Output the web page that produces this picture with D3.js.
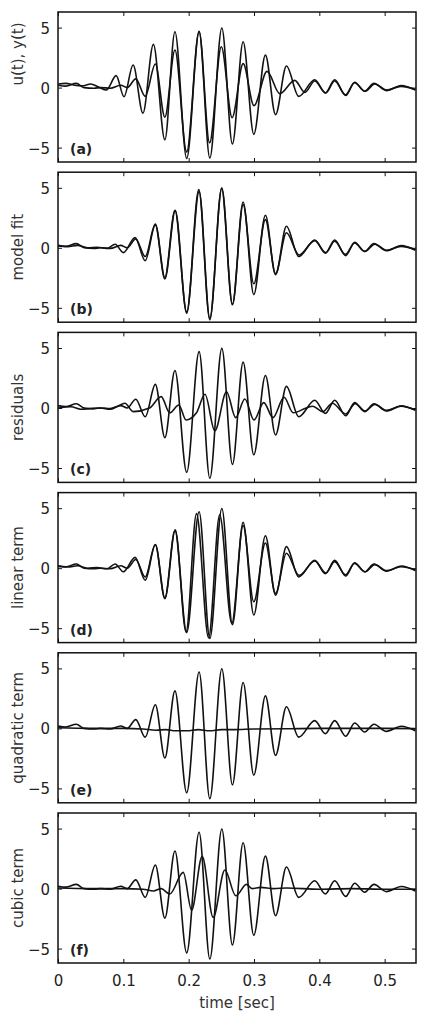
<!DOCTYPE html>
<html><head><meta charset="utf-8">
<script src="https://cdn.jsdelivr.net/npm/d3@7"></script>
<style>body{margin:0;background:#fff}svg{display:block}</style>
</head><body>
<script>
// ---- data ----
const panelLabels = ["(a)","(b)","(c)","(d)","(e)","(f)"];
const yTitles = ["u(t), y(t)","model fit","residuals","linear term","quadratic term","cubic term"];
const xTicks = [0,0.1,0.2,0.3,0.4,0.5];
const yTicks = [-5,0,5];
const xTitle = "time [sec]";

// measured output y(t) (drawn in every panel)
const yT = [0,0.012,0.028,0.04,0.055,0.065,0.08,0.096,0.106,0.119,0.1335,0.149,0.1636,0.179,0.197,0.216,0.2324,0.2508,0.267,0.2834,0.2997,0.3175,0.333,0.3497,0.3685,0.393,0.4093,0.4235,0.4404,0.4541,0.4694,0.4837,0.5026,0.5255,0.547];
const yV = [0.2,0.12,0.35,0.0,-0.05,0.0,-0.05,0.2,0.0,0.73,-0.73,1.97,-2.47,3.13,-5.36,4.7,-5.86,4.97,-4.7,3.82,-3.9,2.71,-2.25,1.8,-0.73,0.65,-0.45,0.65,-0.65,0.45,-0.3,0.35,-0.25,0.18,-0.2];

// input u(t) (panel a)
const uT = [0,0.012,0.025,0.037,0.05,0.062,0.074,0.089,0.101,0.115,0.130,0.146,0.1636,0.179,0.197,0.216,0.232,0.25,0.2665,0.2834,0.30,0.32,0.3395,0.3624,0.378,0.393,0.41,0.4235,0.44,0.454,0.47,0.485,0.503,0.525,0.547];
const uV = [0.3,0.35,0.2,0.15,0.3,0.05,-0.2,1.0,-0.76,1.88,-2.13,3.6,-4.35,4.65,-5.9,4.65,-4.6,3.4,-2.5,2.0,-1.5,1.35,-0.5,0.6,-0.4,0.55,-0.45,0.55,-0.6,0.4,-0.3,0.3,-0.2,0.1,-0.15];

// model fit (panel b)
const mT = [0,0.015,0.03,0.045,0.06,0.075,0.0875,0.1,0.118,0.1335,0.149,0.1636,0.1795,0.197,0.2155,0.2324,0.2505,0.267,0.2834,0.2997,0.3175,0.333,0.3497,0.369,0.393,0.41,0.4235,0.44,0.454,0.47,0.485,0.503,0.525,0.547];
const mV = [0.15,0.1,0.2,0.0,0.05,-0.05,0.3,-0.4,0.85,-1.07,1.9,-2.6,3.1,-5.45,4.85,-6.0,4.95,-4.75,3.6,-3.0,2.35,-2.15,1.25,-0.6,0.6,-0.4,0.55,-0.55,0.4,-0.3,0.3,-0.2,0.12,-0.15];

// residuals (panel c)
const rT = [0,0.02,0.035,0.05,0.065,0.08,0.09,0.1025,0.115,0.14,0.158,0.171,0.185,0.196,0.212,0.225,0.240,0.258,0.272,0.286,0.300,0.315,0.329,0.346,0.36,0.38,0.39,0.405,0.42,0.44,0.455,0.47,0.485,0.503,0.525,0.547];
const rV = [0.0,0.1,-0.1,-0.05,0.0,-0.1,0.1,0.4,-0.3,0.0,0.95,-0.4,0.25,-1.0,-0.4,1.15,-1.9,1.35,-0.8,0.75,-1.0,0.45,-0.8,0.9,-0.4,0.0,0.15,-0.3,0.4,-0.5,0.35,-0.25,0.3,-0.2,0.15,-0.15];

// linear term (panel d)
const lT = [0,0.015,0.03,0.045,0.06,0.075,0.0875,0.1,0.118,0.1335,0.149,0.1636,0.1795,0.196,0.212,0.2305,0.2475,0.266,0.2834,0.2997,0.3175,0.333,0.3497,0.369,0.393,0.41,0.4235,0.44,0.454,0.47,0.485,0.503,0.525,0.547];
const lV = [0.15,0.1,0.2,0.0,0.05,-0.05,0.35,-0.3,0.9,-1.0,1.95,-2.55,3.2,-5.3,4.55,-5.8,4.45,-4.6,3.55,-2.8,2.1,-2.1,1.25,-0.6,0.6,-0.4,0.55,-0.55,0.4,-0.3,0.3,-0.2,0.12,-0.15];

// quadratic term (panel e)
const qT = [0,0.05,0.1,0.13,0.15,0.165,0.18,0.197,0.215,0.232,0.25,0.27,0.3,0.35,0.4,0.5,0.547];
const qV = [0.05,0.0,0.0,-0.05,-0.15,-0.1,-0.2,-0.2,-0.1,-0.2,-0.1,-0.1,-0.05,-0.03,0.0,0.0,-0.02];

// cubic term (panel f)
const cT = [0,0.05,0.1,0.13,0.146,0.158,0.171,0.1917,0.2045,0.2207,0.2375,0.2554,0.2722,0.2885,0.297,0.31,0.33,0.35,0.4,0.45,0.5,0.547];
const cV = [0.05,0.0,0.0,-0.05,-0.2,0.0,-0.45,1.35,-1.8,2.7,-2.4,1.55,-0.6,0.35,0.0,0.1,0.0,0.05,-0.05,0.0,-0.05,-0.05];

// ---- drawing ----
const W = 421, H = 1013;
const L = 58, R = 416, top0 = 12, step = 160.2, ph = 150;
const font = "'DejaVu Sans', sans-serif";
const svg = d3.select("body").append("svg").attr("width", W).attr("height", H);
const x = d3.scaleLinear().domain([0, 0.548]).range([L, R]);
const zip = (t, v) => t.map((d, i) => [d, v[i]]);
const second = [zip(uT,uV), zip(mT,mV), zip(rT,rV), zip(lT,lV), zip(qT,qV), zip(cT,cV)];
const yData = zip(yT, yV);

for (let i = 0; i < 6; i++) {
  const top = top0 + i * step, bot = top + ph;
  const y = d3.scaleLinear().domain([-6.2, 6.3]).range([bot, top]);
  const g = svg.append("g");
  const clipId = "clip" + i;
  g.append("clipPath").attr("id", clipId).append("rect")
    .attr("x", L).attr("y", top).attr("width", R - L).attr("height", ph);
  const line = d3.line().x(d => x(d[0])).y(d => y(d[1])).curve(d3.curveMonotoneX);
  const pg = g.append("g").attr("clip-path", `url(#${clipId})`);
  pg.append("path").datum(second[i]).attr("d", line)
    .attr("fill", "none").attr("stroke", "#151515").attr("stroke-width", 1.6);
  pg.append("path").datum(yData).attr("d", line)
    .attr("fill", "none").attr("stroke", "#111").attr("stroke-width", 1.6);

  // axes with inward ticks
  const axB = d3.axisBottom(x).tickValues(xTicks).tickSize(-4).tickFormat(i === 5 ? d3.format("") : "");
  const axT = d3.axisTop(x).tickValues(xTicks).tickSize(-4).tickFormat("");
  const axL = d3.axisLeft(y).tickValues(yTicks).tickSize(-4).tickFormat(d => d < 0 ? "\u2212" + Math.abs(d) : d);
  const axR = d3.axisRight(y).tickValues(yTicks).tickSize(-4).tickFormat("");
  const gb = g.append("g").attr("transform", `translate(0,${bot})`).call(axB);
  const gt = g.append("g").attr("transform", `translate(0,${top})`).call(axT);
  const gl = g.append("g").attr("transform", `translate(${L},0)`).call(axL);
  const gr = g.append("g").attr("transform", `translate(${R},0)`).call(axR);
  [gb, gt, gl, gr].forEach(a => {
    a.select(".domain").remove();
    a.selectAll("line").attr("stroke", "#111").attr("stroke-width", 1);
    a.selectAll("text").attr("font-family", font).attr("font-size", 15).attr("fill", "#222");
  });
  gl.selectAll("text").attr("x", -8).attr("dy", "0.36em");
  gb.selectAll("text").attr("y", 0).attr("dy", null).attr("transform", `translate(0,${986 - bot})`);

  g.append("rect").attr("x", L).attr("y", top).attr("width", R - L).attr("height", ph)
    .attr("fill", "none").attr("stroke", "#111").attr("stroke-width", 1.5);

  g.append("text").text(panelLabels[i]).attr("x", 70).attr("y", bot - 8)
    .attr("font-family", font).attr("font-size", 14).attr("font-weight", "bold").attr("fill", "#222");

  const cy = i === 0 ? 54 : (top + bot) / 2;
  g.append("text").text(yTitles[i])
    .attr("transform", `translate(23,${cy}) rotate(-90)`)
    .attr("text-anchor", "middle").attr("font-family", font).attr("font-size", 15).attr("fill", "#333");
}
svg.append("text").text(xTitle).attr("x", (L + R) / 2).attr("y", 1008)
  .attr("text-anchor", "middle").attr("font-family", font).attr("font-size", 15).attr("fill", "#333");
</script>
</body></html>
